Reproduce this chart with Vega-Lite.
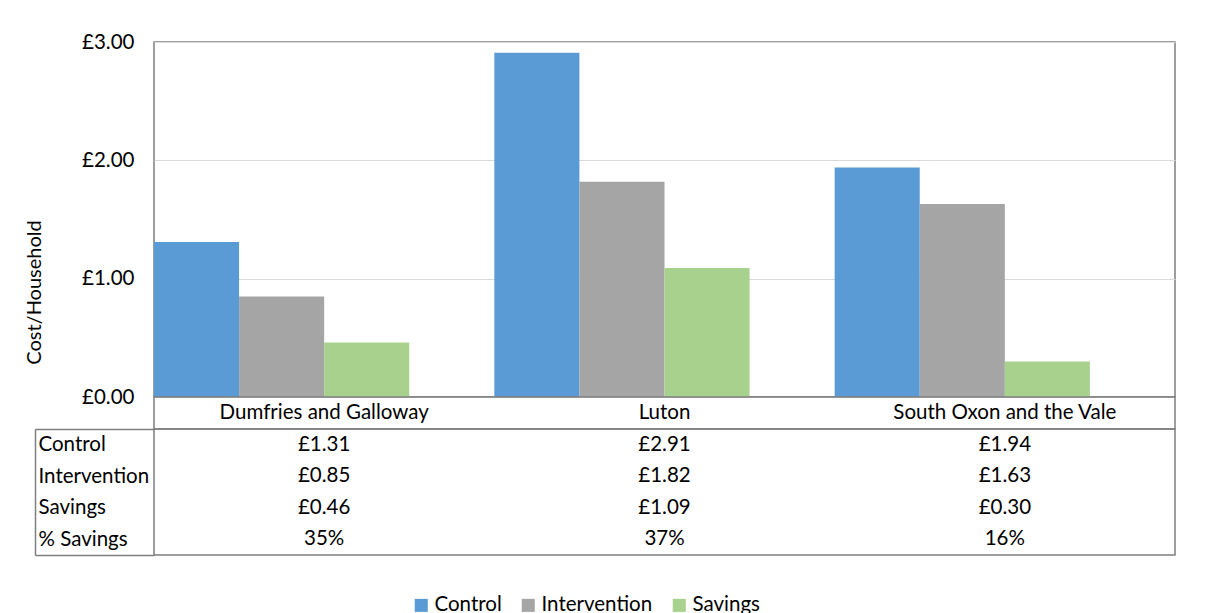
{
  "$schema": "https://vega.github.io/schema/vega-lite/v6.json",
  "padding": {"left": 23, "top": 31, "right": 5, "bottom": 0},
  "background": "white",
  "config": {
    "font": "Lato",
    "view": {"stroke": "#7f7f7f", "strokeWidth": 1.5},
    "text": {"font": "Lato", "fontSize": 20.5, "color": "#000000"}
  },
  "data": {
    "values": [
      {"region": "Dumfries and Galloway", "series": "Control", "value": 1.31},
      {"region": "Dumfries and Galloway", "series": "Intervention", "value": 0.85},
      {"region": "Dumfries and Galloway", "series": "Savings", "value": 0.46},
      {"region": "Dumfries and Galloway", "series": "% Savings", "value": 0.35},
      {"region": "Luton", "series": "Control", "value": 2.91},
      {"region": "Luton", "series": "Intervention", "value": 1.82},
      {"region": "Luton", "series": "Savings", "value": 1.09},
      {"region": "Luton", "series": "% Savings", "value": 0.37},
      {"region": "South Oxon and the Vale", "series": "Control", "value": 1.94},
      {"region": "South Oxon and the Vale", "series": "Intervention", "value": 1.63},
      {"region": "South Oxon and the Vale", "series": "Savings", "value": 0.30},
      {"region": "South Oxon and the Vale", "series": "% Savings", "value": 0.16}
    ]
  },
  "spacing": 0,
  "bounds": "flush",
  "vconcat": [
    {
      "width": 1021,
      "height": 355,
      "transform": [{"filter": "datum.series !== '% Savings'"}],
      "mark": {"type": "bar"},
      "encoding": {
        "x": {"field": "region", "type": "nominal", "sort": null, "scale": {"paddingInner": 0, "paddingOuter": 0}, "axis": null},
        "xOffset": {"field": "series", "type": "nominal", "scale": {"domain": ["Control", "Intervention", "Savings", "% Savings"], "paddingInner": 0, "paddingOuter": 0}},
        "y": {
          "field": "value", "type": "quantitative",
          "scale": {"domain": [0, 3], "nice": false},
          "axis": {
            "values": [0, 1, 2, 3],
            "labelExpr": "'£' + format(datum.value, '.2f')",
            "domain": false, "ticks": false,
            "grid": true, "gridColor": "#d9d9d9", "gridWidth": 1,
            "labelFontSize": 20.5, "labelColor": "#000000", "labelPadding": 20, "labelFont": "Lato",
            "title": "Cost/Household", "titleFontSize": 20, "titleFontWeight": "normal", "titleColor": "#000000", "titleFont": "Lato",
            "titleX": -120, "titleY": 250, "titleAngle": -90, "titleAlign": "center", "titleBaseline": "middle"
          }
        },
        "color": {
          "field": "series", "type": "nominal",
          "scale": {"domain": ["Control", "Intervention", "Savings"], "range": ["#5b9bd5", "#a5a5a5", "#a9d18e"]},
          "legend": {
            "orient": "none", "direction": "horizontal", "legendX": 257, "legendY": 553,
            "title": null, "symbolType": "square", "symbolSize": 170, "symbolStrokeWidth": 0,
            "labelFontSize": 20.5, "labelFont": "Lato", "labelColor": "#000000", "columnPadding": 16, "labelOffset": 3
          }
        }
      }
    },
    {
      "width": 1021,
      "height": 32,
      "transform": [{"filter": "datum.series === 'Control'"}],
      "mark": {"type": "text", "baseline": "middle", "align": "center"},
      "encoding": {
        "x": {"field": "region", "type": "nominal", "sort": null, "scale": {"paddingInner": 0, "paddingOuter": 0}, "axis": null},
        "text": {"field": "region"}
      }
    },
    {
      "width": 1021,
      "height": 126,
      "transform": [{"calculate": "datum.series === '% Savings' ? format(datum.value, '.0%') : '£' + format(datum.value, '.2f')", "as": "display"}],
      "mark": {"type": "text", "baseline": "middle", "align": "center"},
      "encoding": {
        "x": {"field": "region", "type": "nominal", "sort": null, "scale": {"paddingInner": 0, "paddingOuter": 0}, "axis": null},
        "y": {
          "field": "series", "type": "nominal",
          "sort": ["Control", "Intervention", "Savings", "% Savings"],
          "scale": {"domain": ["Control", "Intervention", "Savings", "% Savings"], "paddingInner": 0, "paddingOuter": 0},
          "axis": {
            "title": null, "orient": "left", "offset": 119,
            "domain": true, "domainColor": "#7f7f7f", "domainWidth": 1.5,
            "ticks": true, "tickBand": "extent", "tickSize": -119, "tickWidth": 1.5,
            "tickColor": {"condition": {"test": "datum.index < 0 || datum.value === '% Savings'", "value": "#7f7f7f"}, "value": "transparent"},
            "labelAlign": "left", "labelBaseline": "middle", "labelPadding": 116,
            "labelFontSize": 20.5, "labelFont": "Lato", "labelColor": "#000000", "grid": false
          }
        },
        "text": {"field": "display"}
      }
    }
  ]
}
